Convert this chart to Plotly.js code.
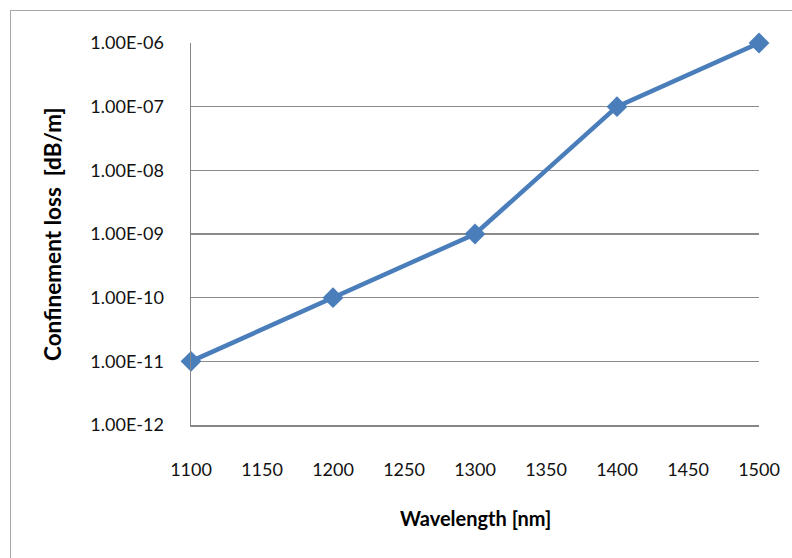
<!DOCTYPE html>
<html>
<head>
<meta charset="utf-8">
<script src="https://cdn.plot.ly/plotly-3.0.1.min.js"></script>
<style>
html,body{margin:0;padding:0;background:#fff;}
#wrap{position:relative;width:792px;height:558px;}
#frame{position:absolute;left:10px;top:10px;width:790px;height:560px;border-left:1px solid #a6a6a6;border-top:1px solid #a6a6a6;pointer-events:none;}
#chart{position:absolute;left:0;top:0;width:792px;height:558px;}
</style>
</head>
<body>
<div id="wrap"><div id="chart"></div><div id="frame"></div></div>
<script>
const wavelength = [1100, 1200, 1300, 1400, 1500];
const loss = [1e-11, 1e-10, 1e-9, 1e-7, 1e-6];
const yTickVals = [1e-12, 1e-11, 1e-10, 1e-9, 1e-8, 1e-7, 1e-6];
const yTickText = ["1.00E-12", "1.00E-11", "1.00E-10", "1.00E-09", "1.00E-08", "1.00E-07", "1.00E-06"];
const xTitle = "Wavelength [nm]";
const yTitle = "Confinement loss&nbsp; [dB/m]";

const font = "Lato, 'Open Sans', sans-serif";
const trace = {
  x: wavelength, y: loss, type: 'scatter', mode: 'lines+markers',
  line: {color: '#4a7ebb', width: 4.5},
  marker: {symbol: 'diamond', size: 16, color: '#4a7ebb'},
  cliponaxis: false, hoverinfo: 'skip'
};
const layout = {
  width: 792, height: 558,
  margin: {l: 191, r: 33, t: 43, b: 133},
  paper_bgcolor: '#fff', plot_bgcolor: '#fff',
  showlegend: false,
  font: {family: font, size: 18, color: '#000'},
  xaxis: {
    range: [1100, 1500], dtick: 50, tick0: 1100,
    showgrid: false, zeroline: false,
    showline: true, linecolor: '#868686', linewidth: 1.5,
    ticks: '', ticklabelstandoff: 28,
    tickfont: {family: font, size: 18, color: '#111'}
  },
  yaxis: {
    type: 'log', range: [-12.0000001, -5.9999999],
    tickvals: yTickVals, ticktext: yTickText,
    showgrid: true, gridcolor: '#8a8a8a', gridwidth: 1.5,
    zeroline: false,
    showline: true, linecolor: '#868686', linewidth: 1.5,
    ticks: '', ticklabelstandoff: 22,
    tickfont: {family: font, size: 18, color: '#111'}
  },
  annotations: [
    {text: '<b>' + xTitle + '</b>', xref: 'paper', yref: 'paper', x: 0.5, y: -93/382,
     showarrow: false, xanchor: 'center', yanchor: 'middle', font: {family: font, size: 20, color: '#000'}},
    {text: '<b>' + yTitle + '</b>', xref: 'paper', yref: 'paper', x: -139/568, y: 0.5, textangle: -90,
     showarrow: false, xanchor: 'center', yanchor: 'middle', font: {family: font, size: 22.5, color: '#000'}}
  ]
};
Plotly.newPlot('chart', [trace], layout, {staticPlot: true, displayModeBar: false});
</script>
</body>
</html>
